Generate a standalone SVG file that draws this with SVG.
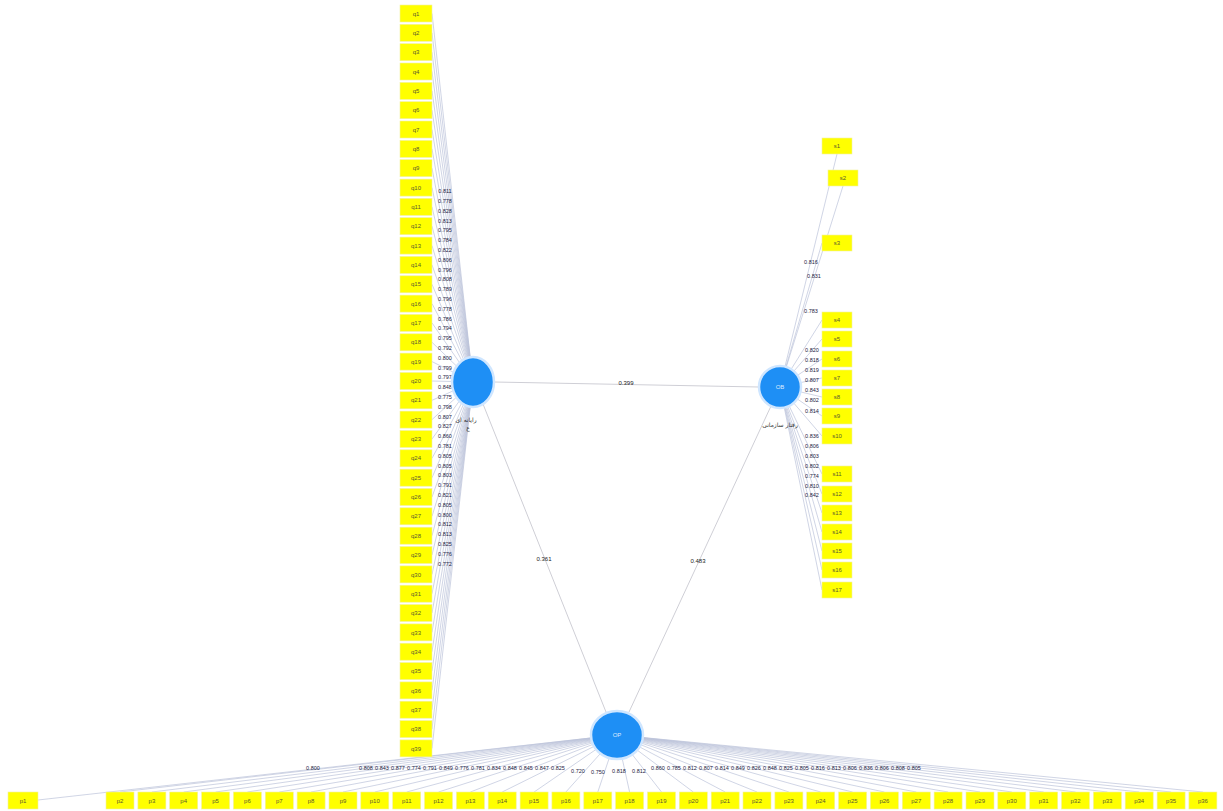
<svg xmlns="http://www.w3.org/2000/svg" width="1223" height="811" viewBox="0 0 1223 811">
<style>
  .ind { fill: #ffff00; stroke: #f2f2a0; stroke-width: 0.6; }
  .it { font-family: "Liberation Sans", Arial, sans-serif; font-size: 6px; fill: #5a5a30; text-anchor: middle; }
  .lv { fill: #1e8ff5; stroke: #cfe6ff; stroke-width: 2.5; }
  .lt { font-family: "Liberation Sans", Arial, sans-serif; font-size: 6px; fill: #dcecff; text-anchor: middle; }
  .nm { font-family: "DejaVu Sans", "Noto Sans", sans-serif; font-size: 6px; fill: #333; text-anchor: middle; }
  .ld { stroke: #bcc3da; stroke-width: 0.7; fill: none; }
  .pl { stroke: #cfcfd6; stroke-width: 1; fill: none; }
  .w { font-family: "Liberation Sans", Arial, sans-serif; font-size: 5.5px; fill: #1c2040; text-anchor: middle; }
  .pw { font-family: "Liberation Sans", Arial, sans-serif; font-size: 6px; fill: #222; text-anchor: middle; }
</style>

<!-- connectors: loadings and path coefficients -->
<g id="connectors">
  <!-- left construct loadings -->
  <g>
    <line class="ld" x1="432" y1="13.5" x2="473" y2="382"/>
    <line class="ld" x1="432" y1="32.8" x2="473" y2="382"/>
    <line class="ld" x1="432" y1="52.2" x2="473" y2="382"/>
    <line class="ld" x1="432" y1="71.5" x2="473" y2="382"/>
    <line class="ld" x1="432" y1="90.9" x2="473" y2="382"/>
    <line class="ld" x1="432" y1="110.2" x2="473" y2="382"/>
    <line class="ld" x1="432" y1="129.5" x2="473" y2="382"/>
    <line class="ld" x1="432" y1="148.9" x2="473" y2="382"/>
    <line class="ld" x1="432" y1="168.2" x2="473" y2="382"/>
    <line class="ld" x1="432" y1="187.6" x2="473" y2="382"/>
    <line class="ld" x1="432" y1="206.9" x2="473" y2="382"/>
    <line class="ld" x1="432" y1="226.2" x2="473" y2="382"/>
    <line class="ld" x1="432" y1="245.6" x2="473" y2="382"/>
    <line class="ld" x1="432" y1="264.9" x2="473" y2="382"/>
    <line class="ld" x1="432" y1="284.3" x2="473" y2="382"/>
    <line class="ld" x1="432" y1="303.6" x2="473" y2="382"/>
    <line class="ld" x1="432" y1="322.9" x2="473" y2="382"/>
    <line class="ld" x1="432" y1="342.3" x2="473" y2="382"/>
    <line class="ld" x1="432" y1="361.6" x2="473" y2="382"/>
    <line class="ld" x1="432" y1="381.0" x2="473" y2="382"/>
    <line class="ld" x1="432" y1="400.3" x2="473" y2="382"/>
    <line class="ld" x1="432" y1="419.6" x2="473" y2="382"/>
    <line class="ld" x1="432" y1="439.0" x2="473" y2="382"/>
    <line class="ld" x1="432" y1="458.3" x2="473" y2="382"/>
    <line class="ld" x1="432" y1="477.7" x2="473" y2="382"/>
    <line class="ld" x1="432" y1="497.0" x2="473" y2="382"/>
    <line class="ld" x1="432" y1="516.3" x2="473" y2="382"/>
    <line class="ld" x1="432" y1="535.7" x2="473" y2="382"/>
    <line class="ld" x1="432" y1="555.0" x2="473" y2="382"/>
    <line class="ld" x1="432" y1="574.4" x2="473" y2="382"/>
    <line class="ld" x1="432" y1="593.7" x2="473" y2="382"/>
    <line class="ld" x1="432" y1="613.0" x2="473" y2="382"/>
    <line class="ld" x1="432" y1="632.4" x2="473" y2="382"/>
    <line class="ld" x1="432" y1="651.7" x2="473" y2="382"/>
    <line class="ld" x1="432" y1="671.1" x2="473" y2="382"/>
    <line class="ld" x1="432" y1="690.4" x2="473" y2="382"/>
    <line class="ld" x1="432" y1="709.7" x2="473" y2="382"/>
    <line class="ld" x1="432" y1="729.1" x2="473" y2="382"/>
    <line class="ld" x1="432" y1="748.4" x2="473" y2="382"/>
  </g>
  <!-- right construct loadings -->
  <g>
    <line class="ld" x1="780" y1="387" x2="837" y2="154"/>
    <line class="ld" x1="780" y1="387" x2="843" y2="186"/>
    <line class="ld" x1="780" y1="387" x2="822" y2="243"/>
    <line class="ld" x1="780" y1="387" x2="822" y2="320"/>
    <line class="ld" x1="780" y1="387" x2="822" y2="339"/>
    <line class="ld" x1="780" y1="387" x2="822" y2="359"/>
    <line class="ld" x1="780" y1="387" x2="822" y2="378"/>
    <line class="ld" x1="780" y1="387" x2="822" y2="397"/>
    <line class="ld" x1="780" y1="387" x2="822" y2="416"/>
    <line class="ld" x1="780" y1="387" x2="822" y2="436"/>
    <line class="ld" x1="780" y1="387" x2="822" y2="474"/>
    <line class="ld" x1="780" y1="387" x2="822" y2="494"/>
    <line class="ld" x1="780" y1="387" x2="822" y2="513"/>
    <line class="ld" x1="780" y1="387" x2="822" y2="532"/>
    <line class="ld" x1="780" y1="387" x2="822" y2="551"/>
    <line class="ld" x1="780" y1="387" x2="822" y2="570"/>
    <line class="ld" x1="780" y1="387" x2="822" y2="590"/>
  </g>
  <!-- bottom construct loadings -->
  <g>
    <line class="ld" x1="617" y1="735" x2="38" y2="800"/>
    <line class="ld" x1="617" y1="735" x2="120" y2="792"/>
    <line class="ld" x1="617" y1="735" x2="151.9" y2="792"/>
    <line class="ld" x1="617" y1="735" x2="183.7" y2="792"/>
    <line class="ld" x1="617" y1="735" x2="215.6" y2="792"/>
    <line class="ld" x1="617" y1="735" x2="247.4" y2="792"/>
    <line class="ld" x1="617" y1="735" x2="279.3" y2="792"/>
    <line class="ld" x1="617" y1="735" x2="311.1" y2="792"/>
    <line class="ld" x1="617" y1="735" x2="343.0" y2="792"/>
    <line class="ld" x1="617" y1="735" x2="374.8" y2="792"/>
    <line class="ld" x1="617" y1="735" x2="406.7" y2="792"/>
    <line class="ld" x1="617" y1="735" x2="438.5" y2="792"/>
    <line class="ld" x1="617" y1="735" x2="470.4" y2="792"/>
    <line class="ld" x1="617" y1="735" x2="502.2" y2="792"/>
    <line class="ld" x1="617" y1="735" x2="534.1" y2="792"/>
    <line class="ld" x1="617" y1="735" x2="565.9" y2="792"/>
    <line class="ld" x1="617" y1="735" x2="597.8" y2="792"/>
    <line class="ld" x1="617" y1="735" x2="629.6" y2="792"/>
    <line class="ld" x1="617" y1="735" x2="661.5" y2="792"/>
    <line class="ld" x1="617" y1="735" x2="693.3" y2="792"/>
    <line class="ld" x1="617" y1="735" x2="725.2" y2="792"/>
    <line class="ld" x1="617" y1="735" x2="757.0" y2="792"/>
    <line class="ld" x1="617" y1="735" x2="788.9" y2="792"/>
    <line class="ld" x1="617" y1="735" x2="820.7" y2="792"/>
    <line class="ld" x1="617" y1="735" x2="852.6" y2="792"/>
    <line class="ld" x1="617" y1="735" x2="884.4" y2="792"/>
    <line class="ld" x1="617" y1="735" x2="916.3" y2="792"/>
    <line class="ld" x1="617" y1="735" x2="948.1" y2="792"/>
    <line class="ld" x1="617" y1="735" x2="980.0" y2="792"/>
    <line class="ld" x1="617" y1="735" x2="1011.8" y2="792"/>
    <line class="ld" x1="617" y1="735" x2="1043.7" y2="792"/>
    <line class="ld" x1="617" y1="735" x2="1075.5" y2="792"/>
    <line class="ld" x1="617" y1="735" x2="1107.4" y2="792"/>
    <line class="ld" x1="617" y1="735" x2="1139.2" y2="792"/>
    <line class="ld" x1="617" y1="735" x2="1171.1" y2="792"/>
    <line class="ld" x1="617" y1="735" x2="1202.9" y2="792"/>
  </g>
  <!-- structural paths -->
  <line class="pl" x1="494" y1="382" x2="759" y2="387"/>
  <line class="pl" x1="483" y1="404" x2="606" y2="712"/>
  <line class="pl" x1="771" y1="406" x2="629" y2="712"/>

  <!-- weights -->
  <text class="pw" x="626" y="385">0.399</text>
  <text class="pw" x="544" y="561">0.361</text>
  <text class="pw" x="698" y="563">0.483</text>

  <g>
    <text class="w" x="445" y="193">0.811</text>
    <text class="w" x="445" y="203">0.778</text>
    <text class="w" x="445" y="212.8">0.828</text>
    <text class="w" x="445" y="222.6">0.813</text>
    <text class="w" x="445" y="232.4">0.795</text>
    <text class="w" x="445" y="242.2">0.784</text>
    <text class="w" x="445" y="252">0.822</text>
    <text class="w" x="445" y="261.8">0.806</text>
    <text class="w" x="445" y="271.6">0.796</text>
    <text class="w" x="445" y="281.4">0.808</text>
    <text class="w" x="445" y="291.2">0.789</text>
    <text class="w" x="445" y="301">0.796</text>
    <text class="w" x="445" y="310.8">0.778</text>
    <text class="w" x="445" y="320.6">0.786</text>
    <text class="w" x="445" y="330.4">0.794</text>
    <text class="w" x="445" y="340.2">0.795</text>
    <text class="w" x="445" y="350">0.792</text>
    <text class="w" x="445" y="359.8">0.800</text>
    <text class="w" x="445" y="369.6">0.799</text>
    <text class="w" x="445" y="379.4">0.797</text>
    <text class="w" x="445" y="389.2">0.848</text>
    <text class="w" x="445" y="399">0.775</text>
    <text class="w" x="445" y="408.8">0.798</text>
    <text class="w" x="445" y="418.6">0.807</text>
    <text class="w" x="445" y="428.4">0.827</text>
    <text class="w" x="445" y="438.2">0.860</text>
    <text class="w" x="445" y="448">0.781</text>
    <text class="w" x="445" y="457.8">0.805</text>
    <text class="w" x="445" y="467.6">0.805</text>
    <text class="w" x="445" y="477.4">0.803</text>
    <text class="w" x="445" y="487.2">0.791</text>
    <text class="w" x="445" y="497">0.821</text>
    <text class="w" x="445" y="506.8">0.805</text>
    <text class="w" x="445" y="516.6">0.800</text>
    <text class="w" x="445" y="526.4">0.812</text>
    <text class="w" x="445" y="536.2">0.813</text>
    <text class="w" x="445" y="546">0.825</text>
    <text class="w" x="445" y="555.8">0.776</text>
    <text class="w" x="445" y="565.6">0.772</text>
  </g>
  <g>
    <text class="w" x="811" y="264">0.816</text>
    <text class="w" x="814" y="278">0.831</text>
    <text class="w" x="811" y="313">0.783</text>
    <text class="w" x="812" y="352">0.820</text>
    <text class="w" x="812" y="361.5">0.818</text>
    <text class="w" x="812" y="371.5">0.819</text>
    <text class="w" x="812" y="381.5">0.807</text>
    <text class="w" x="812" y="391.5">0.843</text>
    <text class="w" x="812" y="401.5">0.802</text>
    <text class="w" x="812" y="413">0.814</text>
    <text class="w" x="812" y="438">0.836</text>
    <text class="w" x="812" y="448">0.806</text>
    <text class="w" x="812" y="458">0.803</text>
    <text class="w" x="812" y="468">0.802</text>
    <text class="w" x="812" y="478">0.774</text>
    <text class="w" x="812" y="487.5">0.810</text>
    <text class="w" x="812" y="497">0.842</text>
  </g>
  <g>
    <text class="w" x="313" y="770">0.800</text>
    <text class="w" x="366" y="770">0.808</text>
    <text class="w" x="382" y="770">0.843</text>
    <text class="w" x="398" y="770">0.877</text>
    <text class="w" x="414" y="770">0.774</text>
    <text class="w" x="430" y="770">0.791</text>
    <text class="w" x="446" y="770">0.849</text>
    <text class="w" x="462" y="770">0.776</text>
    <text class="w" x="478" y="770">0.781</text>
    <text class="w" x="494" y="770">0.834</text>
    <text class="w" x="510" y="770">0.848</text>
    <text class="w" x="526" y="770">0.845</text>
    <text class="w" x="542" y="770">0.847</text>
    <text class="w" x="558" y="770">0.825</text>
    <text class="w" x="578" y="773">0.720</text>
    <text class="w" x="598" y="774">0.750</text>
    <text class="w" x="619" y="773">0.818</text>
    <text class="w" x="639" y="773">0.812</text>
    <text class="w" x="658" y="770">0.860</text>
    <text class="w" x="674" y="770">0.785</text>
    <text class="w" x="690" y="770">0.812</text>
    <text class="w" x="706" y="770">0.807</text>
    <text class="w" x="722" y="770">0.814</text>
    <text class="w" x="738" y="770">0.849</text>
    <text class="w" x="754" y="770">0.826</text>
    <text class="w" x="770" y="770">0.848</text>
    <text class="w" x="786" y="770">0.825</text>
    <text class="w" x="802" y="770">0.805</text>
    <text class="w" x="818" y="770">0.816</text>
    <text class="w" x="834" y="770">0.813</text>
    <text class="w" x="850" y="770">0.806</text>
    <text class="w" x="866" y="770">0.836</text>
    <text class="w" x="882" y="770">0.806</text>
    <text class="w" x="898" y="770">0.808</text>
    <text class="w" x="914" y="770">0.805</text>
  </g>
</g>

<!-- left indicators -->
<g id="left-indicators">
  <g id="q1"><rect class="ind" x="400" y="5.0" width="32" height="17"/><text class="it" x="416" y="15.6">q1</text></g>
  <g id="q2"><rect class="ind" x="400" y="24.3" width="32" height="17"/><text class="it" x="416" y="34.9">q2</text></g>
  <g id="q3"><rect class="ind" x="400" y="43.7" width="32" height="17"/><text class="it" x="416" y="54.3">q3</text></g>
  <g id="q4"><rect class="ind" x="400" y="63.0" width="32" height="17"/><text class="it" x="416" y="73.6">q4</text></g>
  <g id="q5"><rect class="ind" x="400" y="82.4" width="32" height="17"/><text class="it" x="416" y="93.0">q5</text></g>
  <g id="q6"><rect class="ind" x="400" y="101.7" width="32" height="17"/><text class="it" x="416" y="112.3">q6</text></g>
  <g id="q7"><rect class="ind" x="400" y="121.0" width="32" height="17"/><text class="it" x="416" y="131.6">q7</text></g>
  <g id="q8"><rect class="ind" x="400" y="140.4" width="32" height="17"/><text class="it" x="416" y="151.0">q8</text></g>
  <g id="q9"><rect class="ind" x="400" y="159.7" width="32" height="17"/><text class="it" x="416" y="170.3">q9</text></g>
  <g id="q10"><rect class="ind" x="400" y="179.1" width="32" height="17"/><text class="it" x="416" y="189.7">q10</text></g>
  <g id="q11"><rect class="ind" x="400" y="198.4" width="32" height="17"/><text class="it" x="416" y="209.0">q11</text></g>
  <g id="q12"><rect class="ind" x="400" y="217.7" width="32" height="17"/><text class="it" x="416" y="228.3">q12</text></g>
  <g id="q13"><rect class="ind" x="400" y="237.1" width="32" height="17"/><text class="it" x="416" y="247.7">q13</text></g>
  <g id="q14"><rect class="ind" x="400" y="256.4" width="32" height="17"/><text class="it" x="416" y="267.0">q14</text></g>
  <g id="q15"><rect class="ind" x="400" y="275.8" width="32" height="17"/><text class="it" x="416" y="286.4">q15</text></g>
  <g id="q16"><rect class="ind" x="400" y="295.1" width="32" height="17"/><text class="it" x="416" y="305.7">q16</text></g>
  <g id="q17"><rect class="ind" x="400" y="314.4" width="32" height="17"/><text class="it" x="416" y="325.0">q17</text></g>
  <g id="q18"><rect class="ind" x="400" y="333.8" width="32" height="17"/><text class="it" x="416" y="344.4">q18</text></g>
  <g id="q19"><rect class="ind" x="400" y="353.1" width="32" height="17"/><text class="it" x="416" y="363.7">q19</text></g>
  <g id="q20"><rect class="ind" x="400" y="372.5" width="32" height="17"/><text class="it" x="416" y="383.1">q20</text></g>
  <g id="q21"><rect class="ind" x="400" y="391.8" width="32" height="17"/><text class="it" x="416" y="402.4">q21</text></g>
  <g id="q22"><rect class="ind" x="400" y="411.1" width="32" height="17"/><text class="it" x="416" y="421.7">q22</text></g>
  <g id="q23"><rect class="ind" x="400" y="430.5" width="32" height="17"/><text class="it" x="416" y="441.1">q23</text></g>
  <g id="q24"><rect class="ind" x="400" y="449.8" width="32" height="17"/><text class="it" x="416" y="460.4">q24</text></g>
  <g id="q25"><rect class="ind" x="400" y="469.2" width="32" height="17"/><text class="it" x="416" y="479.8">q25</text></g>
  <g id="q26"><rect class="ind" x="400" y="488.5" width="32" height="17"/><text class="it" x="416" y="499.1">q26</text></g>
  <g id="q27"><rect class="ind" x="400" y="507.8" width="32" height="17"/><text class="it" x="416" y="518.4">q27</text></g>
  <g id="q28"><rect class="ind" x="400" y="527.2" width="32" height="17"/><text class="it" x="416" y="537.8">q28</text></g>
  <g id="q29"><rect class="ind" x="400" y="546.5" width="32" height="17"/><text class="it" x="416" y="557.1">q29</text></g>
  <g id="q30"><rect class="ind" x="400" y="565.9" width="32" height="17"/><text class="it" x="416" y="576.5">q30</text></g>
  <g id="q31"><rect class="ind" x="400" y="585.2" width="32" height="17"/><text class="it" x="416" y="595.8">q31</text></g>
  <g id="q32"><rect class="ind" x="400" y="604.5" width="32" height="17"/><text class="it" x="416" y="615.1">q32</text></g>
  <g id="q33"><rect class="ind" x="400" y="623.9" width="32" height="17"/><text class="it" x="416" y="634.5">q33</text></g>
  <g id="q34"><rect class="ind" x="400" y="643.2" width="32" height="17"/><text class="it" x="416" y="653.8">q34</text></g>
  <g id="q35"><rect class="ind" x="400" y="662.6" width="32" height="17"/><text class="it" x="416" y="673.2">q35</text></g>
  <g id="q36"><rect class="ind" x="400" y="681.9" width="32" height="17"/><text class="it" x="416" y="692.5">q36</text></g>
  <g id="q37"><rect class="ind" x="400" y="701.2" width="32" height="17"/><text class="it" x="416" y="711.8">q37</text></g>
  <g id="q38"><rect class="ind" x="400" y="720.6" width="32" height="17"/><text class="it" x="416" y="731.2">q38</text></g>
  <g id="q39"><rect class="ind" x="400" y="739.9" width="32" height="17"/><text class="it" x="416" y="750.5">q39</text></g>
</g>

<!-- right indicators -->
<g id="right-indicators">
  <g id="s1"><rect class="ind" x="822" y="138" width="30" height="16"/><text class="it" x="837" y="148">s1</text></g>
  <g id="s2"><rect class="ind" x="828" y="170" width="30" height="16"/><text class="it" x="843" y="180">s2</text></g>
  <g id="s3"><rect class="ind" x="822" y="235" width="30" height="16"/><text class="it" x="837" y="245">s3</text></g>
  <g id="s4"><rect class="ind" x="822" y="312" width="30" height="16"/><text class="it" x="837" y="322">s4</text></g>
  <g id="s5"><rect class="ind" x="822" y="331" width="30" height="16"/><text class="it" x="837" y="341">s5</text></g>
  <g id="s6"><rect class="ind" x="822" y="351" width="30" height="16"/><text class="it" x="837" y="361">s6</text></g>
  <g id="s7"><rect class="ind" x="822" y="370" width="30" height="16"/><text class="it" x="837" y="380">s7</text></g>
  <g id="s8"><rect class="ind" x="822" y="389" width="30" height="16"/><text class="it" x="837" y="399">s8</text></g>
  <g id="s9"><rect class="ind" x="822" y="408" width="30" height="16"/><text class="it" x="837" y="418">s9</text></g>
  <g id="s10"><rect class="ind" x="822" y="428" width="30" height="16"/><text class="it" x="837" y="438">s10</text></g>
  <g id="s11"><rect class="ind" x="822" y="466" width="30" height="16"/><text class="it" x="837" y="476">s11</text></g>
  <g id="s12"><rect class="ind" x="822" y="486" width="30" height="16"/><text class="it" x="837" y="496">s12</text></g>
  <g id="s13"><rect class="ind" x="822" y="505" width="30" height="16"/><text class="it" x="837" y="515">s13</text></g>
  <g id="s14"><rect class="ind" x="822" y="524" width="30" height="16"/><text class="it" x="837" y="534">s14</text></g>
  <g id="s15"><rect class="ind" x="822" y="543" width="30" height="16"/><text class="it" x="837" y="553">s15</text></g>
  <g id="s16"><rect class="ind" x="822" y="562" width="30" height="16"/><text class="it" x="837" y="572">s16</text></g>
  <g id="s17"><rect class="ind" x="822" y="582" width="30" height="16"/><text class="it" x="837" y="592">s17</text></g>
</g>

<!-- bottom indicators -->
<g id="bottom-indicators">
  <g id="p1"><rect class="ind" x="8" y="792" width="30" height="17"/><text class="it" x="23" y="802.5">p1</text></g>
  <g id="p2"><rect class="ind" x="106" y="792" width="28" height="17"/><text class="it" x="120" y="802.5">p2</text></g>
  <g id="p3"><rect class="ind" x="137.9" y="792" width="28" height="17"/><text class="it" x="151.9" y="802.5">p3</text></g>
  <g id="p4"><rect class="ind" x="169.7" y="792" width="28" height="17"/><text class="it" x="183.7" y="802.5">p4</text></g>
  <g id="p5"><rect class="ind" x="201.6" y="792" width="28" height="17"/><text class="it" x="215.6" y="802.5">p5</text></g>
  <g id="p6"><rect class="ind" x="233.4" y="792" width="28" height="17"/><text class="it" x="247.4" y="802.5">p6</text></g>
  <g id="p7"><rect class="ind" x="265.3" y="792" width="28" height="17"/><text class="it" x="279.3" y="802.5">p7</text></g>
  <g id="p8"><rect class="ind" x="297.1" y="792" width="28" height="17"/><text class="it" x="311.1" y="802.5">p8</text></g>
  <g id="p9"><rect class="ind" x="329.0" y="792" width="28" height="17"/><text class="it" x="343.0" y="802.5">p9</text></g>
  <g id="p10"><rect class="ind" x="360.8" y="792" width="28" height="17"/><text class="it" x="374.8" y="802.5">p10</text></g>
  <g id="p11"><rect class="ind" x="392.7" y="792" width="28" height="17"/><text class="it" x="406.7" y="802.5">p11</text></g>
  <g id="p12"><rect class="ind" x="424.5" y="792" width="28" height="17"/><text class="it" x="438.5" y="802.5">p12</text></g>
  <g id="p13"><rect class="ind" x="456.4" y="792" width="28" height="17"/><text class="it" x="470.4" y="802.5">p13</text></g>
  <g id="p14"><rect class="ind" x="488.2" y="792" width="28" height="17"/><text class="it" x="502.2" y="802.5">p14</text></g>
  <g id="p15"><rect class="ind" x="520.1" y="792" width="28" height="17"/><text class="it" x="534.1" y="802.5">p15</text></g>
  <g id="p16"><rect class="ind" x="551.9" y="792" width="28" height="17"/><text class="it" x="565.9" y="802.5">p16</text></g>
  <g id="p17"><rect class="ind" x="583.8" y="792" width="28" height="17"/><text class="it" x="597.8" y="802.5">p17</text></g>
  <g id="p18"><rect class="ind" x="615.6" y="792" width="28" height="17"/><text class="it" x="629.6" y="802.5">p18</text></g>
  <g id="p19"><rect class="ind" x="647.5" y="792" width="28" height="17"/><text class="it" x="661.5" y="802.5">p19</text></g>
  <g id="p20"><rect class="ind" x="679.3" y="792" width="28" height="17"/><text class="it" x="693.3" y="802.5">p20</text></g>
  <g id="p21"><rect class="ind" x="711.2" y="792" width="28" height="17"/><text class="it" x="725.2" y="802.5">p21</text></g>
  <g id="p22"><rect class="ind" x="743.0" y="792" width="28" height="17"/><text class="it" x="757.0" y="802.5">p22</text></g>
  <g id="p23"><rect class="ind" x="774.9" y="792" width="28" height="17"/><text class="it" x="788.9" y="802.5">p23</text></g>
  <g id="p24"><rect class="ind" x="806.7" y="792" width="28" height="17"/><text class="it" x="820.7" y="802.5">p24</text></g>
  <g id="p25"><rect class="ind" x="838.6" y="792" width="28" height="17"/><text class="it" x="852.6" y="802.5">p25</text></g>
  <g id="p26"><rect class="ind" x="870.4" y="792" width="28" height="17"/><text class="it" x="884.4" y="802.5">p26</text></g>
  <g id="p27"><rect class="ind" x="902.3" y="792" width="28" height="17"/><text class="it" x="916.3" y="802.5">p27</text></g>
  <g id="p28"><rect class="ind" x="934.1" y="792" width="28" height="17"/><text class="it" x="948.1" y="802.5">p28</text></g>
  <g id="p29"><rect class="ind" x="966.0" y="792" width="28" height="17"/><text class="it" x="980.0" y="802.5">p29</text></g>
  <g id="p30"><rect class="ind" x="997.8" y="792" width="28" height="17"/><text class="it" x="1011.8" y="802.5">p30</text></g>
  <g id="p31"><rect class="ind" x="1029.7" y="792" width="28" height="17"/><text class="it" x="1043.7" y="802.5">p31</text></g>
  <g id="p32"><rect class="ind" x="1061.5" y="792" width="28" height="17"/><text class="it" x="1075.5" y="802.5">p32</text></g>
  <g id="p33"><rect class="ind" x="1093.4" y="792" width="28" height="17"/><text class="it" x="1107.4" y="802.5">p33</text></g>
  <g id="p34"><rect class="ind" x="1125.2" y="792" width="28" height="17"/><text class="it" x="1139.2" y="802.5">p34</text></g>
  <g id="p35"><rect class="ind" x="1157.1" y="792" width="28" height="17"/><text class="it" x="1171.1" y="802.5">p35</text></g>
  <g id="p36"><rect class="ind" x="1188.9" y="792" width="28" height="17"/><text class="it" x="1202.9" y="802.5">p36</text></g>
</g>

<!-- latent constructs -->
<g id="construct-left">
  <ellipse class="lv" cx="473" cy="382" rx="21" ry="25"/>
  <text class="nm" x="466" y="422">رایانه ای</text>
  <text class="nm" x="468" y="430">ع</text>
</g>
<g id="construct-right">
  <ellipse class="lv" cx="780" cy="387" rx="21" ry="21"/>
  <text class="lt" x="780" y="389">OB</text>
  <text class="nm" x="780" y="427">رفتار سازمانی</text>
</g>
<g id="construct-bottom">
  <ellipse class="lv" cx="617" cy="735" rx="26" ry="24"/>
  <text class="lt" x="617" y="737">OP</text>
</g>
</svg>
